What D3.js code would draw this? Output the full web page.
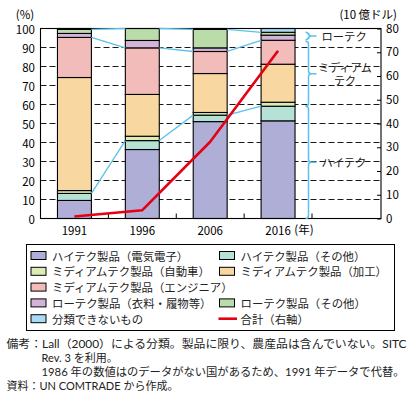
<!DOCTYPE html>
<html>
<head>
<meta charset="utf-8">
<script src="https://cdn.jsdelivr.net/npm/d3@7"></script>
<style>
  html, body { margin: 0; padding: 0; background: #fff; }
  svg { display: block; font-family: "Noto Sans CJK JP", "Noto Sans", sans-serif; }
  .tight { font-family: "Lato", "Noto Sans CJK JP", sans-serif; }
</style>
</head>
<body>
<div class="chart"></div>
<script>
"use strict";

const years = ["1991", "1996", "2006", "2016"];
const seriesKeys = ["hiElec", "hiOther", "midAuto", "midProc", "midEng", "lowTex", "lowOther", "unclass"];
const seriesNames = [
    "ハイテク製品（電気電子）", "ハイテク製品（その他）",
    "ミディアムテク製品（自動車）", "ミディアムテク製品（加工）",
    "ミディアムテク製品（エンジニア）",
    "ローテク製品（衣料・履物等）", "ローテク製品（その他）",
    "分類できないもの"
];
const seriesColors = ["#afaed7", "#b5e1d6", "#dbedb5", "#f8d8a0", "#f1bcb9", "#d3b3d8", "#badca9", "#aadbf5"];

// shares (%)
const hiElec   = [9.5, 36.3, 51.0, 51.4];
const hiOther  = [3.7, 4.7, 3.4, 7.7];
const midAuto  = [1.5, 2.3, 1.4, 2.1];
const midProc  = [59.5, 22.0, 20.5, 20.0];
const midEng   = [21.1, 24.5, 11.6, 12.6];
const lowTex   = [2.1, 3.9, 1.9, 2.7];
const lowOther = [2.1, 6.3, 9.7, 1.5];
const unclass  = [0.5, 0.0, 0.5, 2.0];
// total, 10 billion dollars (right axis)
const totals = [0.85, 3.5, 32.3, 70.6];

const leftTicks = [0, 10, 20, 30, 40, 50, 60, 70, 80, 90, 100];
const rightTicks = [0, 10, 20, 30, 40, 50, 60, 70, 80];

const notes = [
    "備考：Lall（2000）による分類。製品に限り、農産品は含んでいない。SITC",
    "Rev. 3 を利用。",
    "1986 年の数値はのデータがない国があるため、1991 年データで代替。",
    "資料：UN COMTRADE から作成。"
];

window.onload = () => main();

function main() {
    const W = 414, H = 397;
    const left = 40.5, right = 381, top = 28.5, bottom = 218.5, barsRight = 312;
    const blue = "#5cc0ea";

    const table = years.map((y, i) => ({
        year: y, hiElec: hiElec[i], hiOther: hiOther[i], midAuto: midAuto[i], midProc: midProc[i],
        midEng: midEng[i], lowTex: lowTex[i], lowOther: lowOther[i], unclass: unclass[i]
    }));
    const stacked = d3.stack().keys(seriesKeys)(table);

    const svg = d3.select(".chart").append("svg")
        .attr("width", W).attr("height", H);

    const x = d3.scaleBand().domain(years).range([left, barsRight]).paddingInner(0.5).paddingOuter(0.25);
    const y = d3.scaleLinear().domain([0, 100]).range([bottom, top]);
    const y2 = d3.scaleLinear().domain([0, 80]).range([bottom, top]);

    // dashed grid
    svg.append("g").selectAll("line")
        .data(leftTicks.slice(1, -1))
        .enter().append("line")
        .attr("x1", left).attr("x2", right)
        .attr("y1", d => y(d)).attr("y2", d => y(d))
        .attr("stroke", "#000").attr("stroke-width", 0.9)
        .attr("stroke-dasharray", "6,3");

    // left axis labels
    svg.append("g").selectAll("text")
        .data(leftTicks)
        .enter().append("text")
        .attr("x", 35).attr("y", d => y(d))
        .attr("text-anchor", "end").attr("dominant-baseline", "central")
        .attr("font-size", 11.5).text(d => d);

    // right axis
    const ra = svg.append("g").attr("transform", `translate(${right},0)`)
        .call(d3.axisRight(y2).tickValues(rightTicks).tickSize(-4).tickPadding(5));
    ra.select(".domain").remove();
    ra.selectAll("line").attr("stroke", "#000");
    ra.selectAll("text").attr("font-size", 11.5).attr("font-family", "Noto Sans CJK JP").attr("fill", "#000");

    // bars
    svg.append("g").selectAll("g")
        .data(stacked)
        .enter().append("g")
        .attr("fill", (d, i) => seriesColors[i])
        .each(function(s) {
            d3.select(this).selectAll("rect")
                .data(s.filter(p => p[1] - p[0] > 0))
                .enter().append("rect")
                .attr("x", p => x(p.data.year))
                .attr("width", x.bandwidth())
                .attr("y", p => y(p[1]))
                .attr("height", p => y(p[0]) - y(p[1]))
                .attr("stroke", "#000").attr("stroke-width", 1.1);
        });

    // frame
    svg.append("rect")
        .attr("x", left).attr("y", top)
        .attr("width", right - left).attr("height", bottom - top)
        .attr("fill", "none").attr("stroke", "#000").attr("stroke-width", 1.1);

    // x ticks at band boundaries
    const bounds = years.map(d => x(d) - x.step() * 0.25).concat([barsRight]);
    svg.append("g").selectAll("line")
        .data(bounds.slice(1))
        .enter().append("line")
        .attr("x1", d => d).attr("x2", d => d)
        .attr("y1", bottom).attr("y2", bottom - 5)
        .attr("stroke", "#000");

    // connector lines (hi/mid, mid/low, low/unclassified boundaries)
    const levels = [stacked[1], stacked[4], stacked[6]];
    const conn = svg.append("g").attr("stroke", blue).attr("stroke-width", 1.3).attr("fill", "none");
    levels.forEach(s => {
        for (let i = 0; i < years.length - 1; i++) {
            conn.append("line")
                .attr("x1", x(years[i]) + x.bandwidth()).attr("y1", y(s[i][1]))
                .attr("x2", x(years[i + 1])).attr("y2", y(s[i + 1][1]));
        }
    });

    // braces for 2016
    const last = years.length - 1;
    const groups = [
        { lo: 0, hi: stacked[1][last][1], label: ["ハイテク"] },
        { lo: stacked[1][last][1], hi: stacked[4][last][1], label: ["ミディアム", "テク"] },
        { lo: stacked[4][last][1], hi: stacked[6][last][1], label: ["ローテク"] }
    ];
    const bx = 308.5;
    const br = svg.append("g");
    groups.forEach((g, gi) => {
        const y1 = y(g.hi) + (gi === 1 ? 1 : 0);
        const yb = y(g.lo) - (gi === 2 ? 0.5 : 0);
        const ym = (y1 + yb) / 2;
        const r = 3;
        br.append("path")
            .attr("d", `M${bx - r},${y1} Q${bx},${y1} ${bx},${y1 + r} L${bx},${ym - r} Q${bx},${ym} ${bx + r},${ym}` +
                ` Q${bx},${ym} ${bx},${ym + r} L${bx},${yb - r} Q${bx},${yb} ${bx - r},${yb}` +
                ` M${bx + r},${ym} L${bx + 8},${ym}`)
            .attr("fill", "none").attr("stroke", blue).attr("stroke-width", 1.5);
        if (g.label.length === 1) {
            br.append("text").attr("x", 321.5).attr("y", ym)
                .attr("dominant-baseline", "central").attr("font-size", 11.3)
                .attr("fill", "#222").text(g.label[0]);
        } else {
            g.label.forEach((s, k) => {
                br.append("text").attr("class", "tight")
                    .attr("x", 345).attr("y", ym - 2 + k * 13.5)
                    .attr("text-anchor", "middle")
                    .attr("font-size", 11).attr("fill", "#222").text(s);
            });
        }
    });

    // total line
    const line = d3.line()
        .x((d, i) => x(years[i]) + x.bandwidth() / 2)
        .y(d => y2(d));
    svg.append("path")
        .datum(totals)
        .attr("d", line)
        .attr("fill", "none").attr("stroke", "#e50012").attr("stroke-width", 2.6)
        .attr("stroke-linejoin", "round");

    // x labels
    svg.append("g").selectAll("text")
        .data(years)
        .enter().append("text")
        .attr("x", d => x(d) + x.bandwidth() / 2).attr("y", 230)
        .attr("text-anchor", "middle").attr("dominant-baseline", "central")
        .attr("font-size", 11.5).text(d => d);
    svg.append("text").attr("x", 304).attr("y", 229)
        .attr("text-anchor", "middle").attr("dominant-baseline", "central")
        .attr("font-size", 11.5).text("(年)");

    // axis titles
    svg.append("text").attr("x", 25).attr("y", 14)
        .attr("text-anchor", "middle").attr("dominant-baseline", "central")
        .attr("font-size", 11.5).text("(%)");
    svg.append("text").attr("x", 397).attr("y", 13.5)
        .attr("text-anchor", "end").attr("dominant-baseline", "central")
        .attr("font-size", 11.5).text("(10 億ドル)");

    // legend
    const lg = svg.append("g");
    lg.append("rect").attr("x", 26.5).attr("y", 244.5).attr("width", 368).attr("height", 86)
        .attr("fill", "none").attr("stroke", "#000").attr("stroke-width", 1);
    const slots = [[0, 0], [1, 0], [0, 1], [1, 1], [0, 2], [0, 3], [1, 3], [0, 4]];
    const colX = [31, 219.5];
    const rowY = d3.range(5).map(i => 255.5 + i * 15.8);
    seriesNames.forEach((name, i) => {
        const [c, r] = slots[i];
        lg.append("rect").attr("x", colX[c]).attr("y", rowY[r] - 4)
            .attr("width", 15).attr("height", 8)
            .attr("fill", seriesColors[i]).attr("stroke", "#000").attr("stroke-width", 1);
        lg.append("text").attr("x", colX[c] + 21).attr("y", rowY[r])
            .attr("dominant-baseline", "central").attr("font-size", 11.4)
            .attr("fill", "#222").text(name);
    });
    lg.append("line").attr("x1", 218.5).attr("x2", 237).attr("y1", rowY[4]).attr("y2", rowY[4])
        .attr("stroke", "#e50012").attr("stroke-width", 2.6);
    lg.append("text").attr("x", 240.5).attr("y", rowY[4])
        .attr("dominant-baseline", "central").attr("font-size", 11.4)
        .attr("fill", "#222").text("合計（右軸）");

    // notes
    const noteX = [6.5, 41.5, 41.5, 6.5];
    const noteY = [347.5, 361.5, 375.5, 389.5];
    const noteLen = [400, null, 363, null];
    notes.forEach((t, i) => {
        const el = svg.append("text").attr("class", "tight")
            .attr("x", noteX[i]).attr("y", noteY[i])
            .attr("font-size", 11).attr("fill", "#222").text(t);
        if (noteLen[i]) el.attr("textLength", noteLen[i]).attr("lengthAdjust", "spacingAndGlyphs");
    });
}
</script>
</body>
</html>
